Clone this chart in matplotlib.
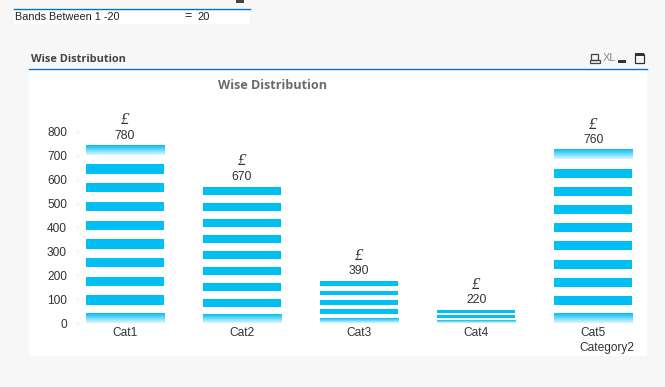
import numpy as np
import matplotlib as mpl
mpl.use("Agg")
import matplotlib.pyplot as plt
from matplotlib.colors import LinearSegmentedColormap
from matplotlib.patches import Rectangle, FancyBboxPatch

plt.rcParams["font.family"] = ["Liberation Sans", "DejaVu Sans"]

categories = ["Cat1", "Cat2", "Cat3", "Cat4", "Cat5"]
totals = [780, 670, 390, 220, 760]
# every stack is made of equal segments, odd ones are left blank
band_height = [39, 33.5, 19.5, 11, 38]
segment_count = [19, 17, 9, 5, 19]
faded_top = [True, False, False, False, True]
y_ticks = [0, 100, 200, 300, 400, 500, 600, 700, 800]

BLUE = "#00BFF3"
LINE = "#0070C8"
fade = LinearSegmentedColormap.from_list("fade", [BLUE, "#DDF6FD"])

fig = plt.figure(figsize=(6.65, 3.87), dpi=100, facecolor="#F7F7F7")

# window chrome, in pixel coordinates
bg = fig.add_axes([0, 0, 1, 1], zorder=0)
bg.set_xlim(0, 665)
bg.set_ylim(387, 0)
bg.axis("off")

bg.add_patch(Rectangle((14, 8), 236, 16, fc="white", ec="none"))
bg.plot([14, 250], [8.5, 8.5], color=LINE, lw=1)
bg.text(15, 16.5, "Bands Between 1 -20", fontsize=7.8, color="#222222", va="center")
bg.text(184, 16.5, "=", fontsize=9, color="#222222", va="center")
bg.text(197, 16.5, "20", fontsize=8, color="#222222", va="center")
bg.add_patch(Rectangle((236, 0), 8, 3, fc="#444444", ec="none"))

bg.add_patch(FancyBboxPatch((31, 70), 614, 284, boxstyle="round,pad=2", fc="white", ec="none"))
bg.add_patch(Rectangle((29, 68), 618, 6, fc="white", ec="none"))
bg.plot([29, 647], [68.5, 68.5], color=LINE, lw=1)
bg.text(31, 59, "Wise Distribution", family="Open Sans", fontsize=7.9, fontweight="bold",
        color="#444444", va="center")
bg.text(218, 85.5, "Wise Distribution", family="Open Sans", fontsize=9.1, fontweight="bold",
        color="#6B6B6B", va="center")

# toolbar icons
bg.add_patch(Rectangle((591, 53.5), 7, 6, fc="none", ec="#444444", lw=0.9))
bg.add_patch(Rectangle((589.5, 60), 10, 3, fc="none", ec="#444444", lw=0.9))
bg.text(603, 58, "XL", fontsize=8, color="#8A8A8A", va="center")
bg.add_patch(Rectangle((618, 60), 8, 3, fc="#333333", ec="none"))
bg.add_patch(Rectangle((634.5, 53.5), 9, 9, fc="none", ec="#333333", lw=0.9))
bg.add_patch(Rectangle((634.5, 53), 9, 2.5, fc="#333333", ec="none"))

# plot area: x=0 at px 125, 117 px per category, y=0 at px 323.3, 0.2395 px per unit
ax = fig.add_axes([78 / 665, (387 - 323.3) / 387, (647 - 78) / 665, (323.3 - 100) / 387], zorder=1)
ax.patch.set_alpha(0)
for side in ax.spines.values():
    side.set_visible(False)

for i, cat in enumerate(categories):
    h = band_height[i]
    n = segment_count[i]
    bottom = 0
    for k in range(n):
        if k % 2 == 0:
            is_faded = k == 0 or (k == n - 1 and faded_top[i])
            if is_faded:
                grad = np.linspace(0, 1, 32).reshape(-1, 1)
                ax.imshow(grad, cmap=fade, aspect="auto", origin="upper", interpolation="bilinear",
                          extent=(i - 1 / 3, i + 1 / 3, bottom, bottom + h))
            else:
                ax.bar(i, h, bottom=bottom, width=2 / 3, color=BLUE, linewidth=0)
        bottom += h
    ax.annotate(str(totals[i]), xy=(i, bottom), xytext=(0, 3), textcoords="offset points",
                ha="center", va="bottom", fontsize=8.8, color="#333333")
    ax.annotate("£", xy=(i, bottom), xytext=(0, 12.5), textcoords="offset points",
                ha="center", va="bottom", fontsize=12, color="#333333",
                family="Liberation Serif", style="italic")

ax.set_xlim(-0.4017, 4.46)
ax.set_ylim(0, 932)
ax.set_xticks(range(len(categories)), categories)
ax.set_yticks(y_ticks)
ax.tick_params(axis="y", length=1, width=1, color="#CCCCCC", pad=7, labelsize=8.6, labelcolor="#333333")
ax.tick_params(axis="x", length=0, pad=3, labelsize=8.6, labelcolor="#333333")

bg.text(579, 347.5, "Category2", fontsize=8.6, color="#333333", va="center")

fig.savefig("out.png", dpi=100, facecolor=fig.get_facecolor())
